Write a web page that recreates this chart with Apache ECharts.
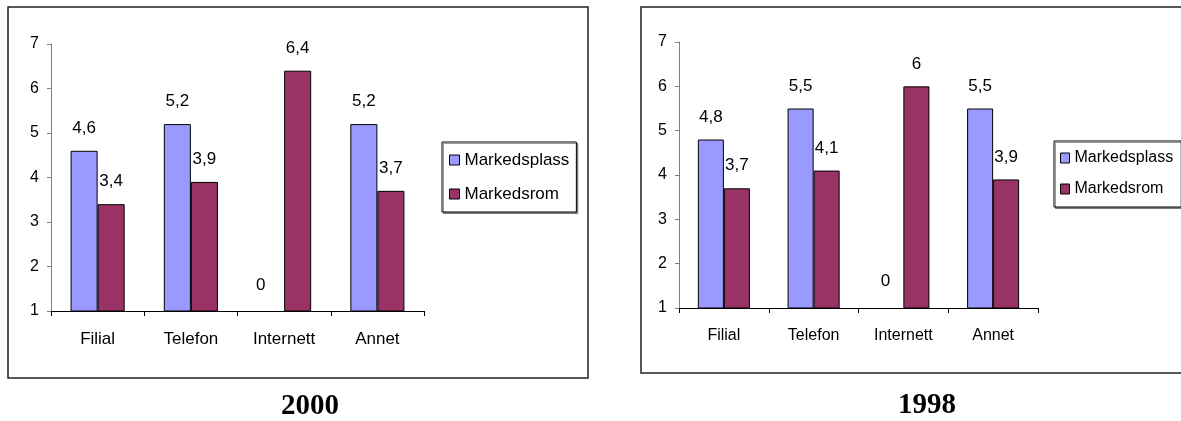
<!DOCTYPE html>
<html>
<head>
<meta charset="utf-8">
<script src="https://cdn.jsdelivr.net/npm/echarts@6/dist/echarts.min.js"></script>
<style>
  html, body { margin: 0; padding: 0; background: #fff; }
  #chart { width: 1181px; height: 421px; }
</style>
</head>
<body>
<div id="chart"></div>
<script>
// Survey scores per channel, two years side by side
const categories = ['Filial', 'Telefon', 'Internett', 'Annet'];
const seriesNames = ['Markedsplass', 'Markedsrom'];
const plass2000 = [4.6, 5.2, 0, 5.2];
const rom2000 = [3.4, 3.9, 6.4, 3.7];
const plass1998 = [4.8, 5.5, 0, 5.5];
const rom1998 = [3.7, 4.1, 6, 3.9];
const yMin = 1;
const yMax = 7;
const yStep = 1;
const years = ['2000', '1998'];

const FONT = '"Liberation Sans", Arial, sans-serif';
const COLORS = ['#9999FF', '#993366'];

// Layout of the two panels
const panels = [
  {
    year: years[0], plass: plass2000, rom: rom2000,
    frame: { x: 8, y: 7, width: 580, height: 371 },
    grid: { left: 51, top: 44, width: 373, height: 267 },
    legend: { left: 442, top: 142, fontSize: 17, lineHeight: 20, icon: [10, 10], gap: 14, padding: [8, 7, 8, 7] },
    titleX: 310, titleY: 407, zeroShift: [-10, -26],
    valueFont: 17, axisFont: 16, catFont: 17
  },
  {
    year: years[1], plass: plass1998, rom: rom1998,
    frame: { x: 641, y: 7, width: 560, height: 366 },
    grid: { left: 679, top: 42, width: 359, height: 266 },
    legend: { left: 1054, top: 141, fontSize: 16, lineHeight: 18, icon: [9, 10], gap: 13, padding: [8, 8, 9, 6] },
    titleX: 927, titleY: 406, zeroShift: [-5, -27],
    valueFont: 17, axisFont: 16, catFont: 16
  }
];

const fmt = v => String(v).replace('.', ',');

const option = {
  animation: false,
  backgroundColor: '#fff',
  textStyle: { fontFamily: FONT },
  grid: [],
  xAxis: [],
  yAxis: [],
  legend: [],
  series: [],
  graphic: []
};

panels.forEach((p, i) => {
  option.grid.push(Object.assign({ containLabel: false }, p.grid));

  option.xAxis.push({
    type: 'category',
    gridIndex: i,
    data: categories,
    axisLine: { show: true, lineStyle: { color: '#000', width: 1 } },
    axisTick: { show: true, alignWithLabel: false, length: 5, lineStyle: { color: '#000' } },
    axisLabel: { color: '#000', fontSize: p.catFont, fontFamily: FONT, margin: 20 },
    splitLine: { show: false }
  });

  option.yAxis.push({
    type: 'value',
    gridIndex: i,
    min: yMin,
    max: yMax,
    interval: yStep,
    axisLine: { show: true, lineStyle: { color: '#808080', width: 1 } },
    axisTick: { show: true, inside: false, length: 4, lineStyle: { color: '#808080' } },
    axisLabel: { color: '#000', fontSize: p.axisFont, fontFamily: FONT, margin: 12 },
    splitLine: { show: false }
  });

  option.legend.push({
    orient: 'vertical',
    left: p.legend.left,
    top: p.legend.top,
    padding: p.legend.padding,
    itemGap: p.legend.gap,
    itemWidth: p.legend.icon[0],
    itemHeight: p.legend.icon[1],
    icon: 'rect',
    backgroundColor: '#fff',
    borderColor: '#000',
    borderWidth: 1,
    shadowColor: 'rgba(0,0,0,0.4)',
    shadowOffsetX: 1.5,
    shadowOffsetY: 1.5,
    shadowBlur: 0,
    selectedMode: false,
    itemStyle: { borderColor: '#000', borderWidth: 1 },
    textStyle: { color: '#000', fontSize: p.legend.fontSize, lineHeight: p.legend.lineHeight, fontFamily: FONT },
    data: seriesNames
  });

  // Values that fall below the axis floor get their label at the floor
  const floorMarks = vals => vals
    .map((v, j) => ({ v, j }))
    .filter(d => d.v < yMin)
    .map(d => ({
      coord: [d.j, yMin],
      value: d.v,
      label: {
        show: true,
        position: 'inside',
        offset: p.zeroShift,
        color: '#000',
        fontSize: p.valueFont,
        fontFamily: FONT,
        formatter: m => fmt(m.value)
      }
    }));

  [p.plass, p.rom].forEach((vals, k) => {
    option.series.push({
      name: seriesNames[k],
      type: 'bar',
      xAxisIndex: i,
      yAxisIndex: i,
      data: vals,
      barGap: '0%',
      barCategoryGap: '42%',
      itemStyle: { color: COLORS[k], borderColor: '#000', borderWidth: 1 },
      label: {
        show: true,
        position: 'top',
        distance: 14,
        color: '#000',
        fontSize: p.valueFont,
        fontFamily: FONT,
        formatter: d => fmt(d.value)
      },
      markPoint: {
        silent: true,
        symbol: 'circle',
        symbolSize: 1,
        itemStyle: { color: 'rgba(0,0,0,0)', borderWidth: 0 },
        data: floorMarks(vals)
      }
    });
  });

  option.graphic.push({
    type: 'rect',
    silent: true,
    z: -10,
    shape: p.frame,
    style: { fill: 'none', stroke: '#222', lineWidth: 1.5 }
  });
  option.graphic.push({
    type: 'text',
    silent: true,
    x: p.titleX,
    y: p.titleY,
    style: {
      text: p.year,
      font: 'bold 29px "Liberation Serif", "Times New Roman", serif',
      fill: '#000',
      textAlign: 'center',
      textVerticalAlign: 'middle'
    }
  });
});

const chart = echarts.init(document.getElementById('chart'), null, { renderer: 'canvas' });
chart.setOption(option);
</script>
</body>
</html>
